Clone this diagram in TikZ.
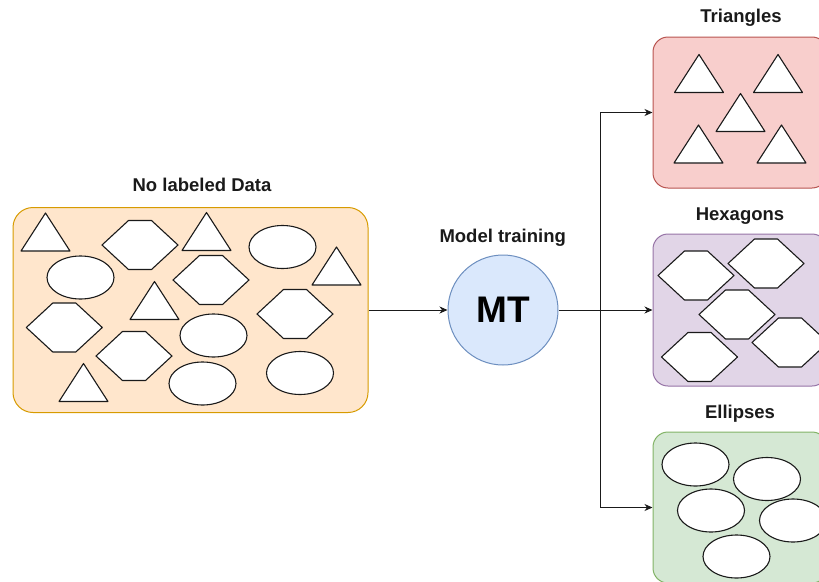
\documentclass[tikz,border=0pt]{standalone}
\usepackage{fontspec}
\setmainfont{Liberation Sans}
\usetikzlibrary{arrows.meta}
\definecolor{orfill}{HTML}{FFE6CC}\definecolor{orline}{HTML}{D79B00}
\definecolor{rdfill}{HTML}{F8CECC}\definecolor{rdline}{HTML}{B85450}
\definecolor{pufill}{HTML}{E1D5E7}\definecolor{puline}{HTML}{9673A6}
\definecolor{grfill}{HTML}{D5E8D4}\definecolor{grline}{HTML}{82B366}
\definecolor{blfill}{HTML}{DAE8FC}\definecolor{blline}{HTML}{6C8EBF}
\definecolor{txt}{HTML}{1A1A1A}
\tikzset{
  grp/.style={draw, line width=1pt, inner sep=0pt, rectangle},
  shp/.style={draw=txt, fill=white, line width=1.1pt, line join=round},
  lbl/.style={text=txt, font=\fontsize{18.5}{21}\selectfont\bfseries, inner sep=0pt, anchor=base},
  arr/.style={draw=txt, line width=1pt, -{Stealth[length=8pt,width=7pt,inset=2.5pt]}},
  conn/.style={draw=txt, line width=1pt},
  tri/.pic={\draw[shp] (-24.5,19) -- (0,-19) -- (24.5,19) -- cycle;},
  hexa/.pic={\draw[shp] (-38,0) -- (-11.5,-24.5) -- (11.5,-24.5) -- (38,0) -- (11.5,24.5) -- (-11.5,24.5) -- cycle;},
  ell/.pic={\draw[shp] (0,0) ellipse [x radius=33.5pt, y radius=21.5pt];}
}
\begin{document}
\begin{tikzpicture}[x=1pt,y=-1pt]
\useasboundingbox (0,0) rectangle (819,581);
% group boxes
\node[grp, draw=orline, fill=orfill, rounded corners=20pt, minimum width=355pt, minimum height=205pt] (data) at (190.5,310) {};
\node[grp, draw=rdline, fill=rdfill, rounded corners=15pt, minimum width=174pt, minimum height=151pt] (tribox) at (740,112.5) {};
\node[grp, draw=puline, fill=pufill, rounded corners=15pt, minimum width=174pt, minimum height=152pt] (hexbox) at (740,310) {};
\node[grp, draw=grline, fill=grfill, rounded corners=15pt, minimum width=174pt, minimum height=151pt] (ellbox) at (740,507.5) {};
% MT circle
\node[circle, draw=blline, fill=blfill, line width=1pt, minimum size=110pt, inner sep=0pt, text=black, font=\fontsize{37}{40}\selectfont\bfseries] (mt) at (503,310) {MT};
% labels
\node[lbl] (ldata) at (202,191.7) {No labeled Data};
\node[lbl] (lmt) at (502.7,242) {Model training};
\node[lbl] (ltri) at (741,22.7) {Triangles};
\node[lbl] (lhex) at (740,220.7) {Hexagons};
\node[lbl] (lell) at (740,418.3) {Ellipses};
% connectors
\coordinate (split) at (600,310);
\draw[arr] (data.east) -- (mt.west);
\draw[conn] (mt.east) -- (split);
\draw[arr] (split) |- (tribox.west);
\draw[arr] (split) -- (hexbox.west);
\draw[arr] (split) |- (ellbox.west);
% shapes in unlabeled data
\pic at (45.5,232) {tri};
\pic at (206.5,231.5) {tri};
\pic at (336.5,266) {tri};
\pic at (154.5,300.5) {tri};
\pic at (83.5,382.5) {tri};
\pic at (140,245) {hexa};
\pic at (211,280) {hexa};
\pic at (64.3,327.5) {hexa};
\pic at (295,314) {hexa};
\pic at (134,356) {hexa};
\pic at (282.5,247) {ell};
\pic at (80.5,277.5) {ell};
\pic at (213.5,335.5) {ell};
\pic at (300,373) {ell};
\pic at (202.5,383.5) {ell};
% triangles group
\pic at (699,73.5) {tri};
\pic at (778,73.5) {tri};
\pic at (740.5,112.5) {tri};
\pic at (698.5,144) {tri};
\pic at (781.5,144) {tri};
% hexagons group
\pic at (696,275.5) {hexa};
\pic at (766,263.5) {hexa};
\pic at (737,314.5) {hexa};
\pic at (790,342.5) {hexa};
\pic at (699.5,357) {hexa};
% ellipses group
\pic at (695.5,464.5) {ell};
\pic at (767,479) {ell};
\pic at (711,510.5) {ell};
\pic at (793,520.5) {ell};
\pic at (736.5,556.5) {ell};
\end{tikzpicture}
\end{document}
